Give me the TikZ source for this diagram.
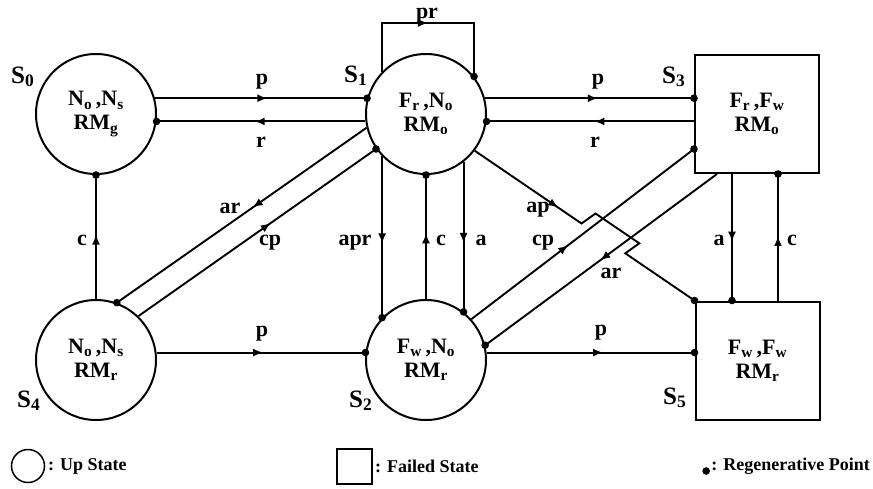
\documentclass[tikz,border=0pt]{standalone}
\usepackage{fontspec}
\setmainfont{Liberation Serif}
\usetikzlibrary{arrows.meta,decorations.markings,calc}
\newcommand{\sbs}[1]{\textsubscript{#1}}
\newcommand{\instate}{\fontsize{22}{24}\selectfont\bfseries}
\begin{document}
\begin{tikzpicture}[x=1pt,y=-1pt,
  up/.style={circle,draw,line width=2pt,minimum size=120pt,inner sep=0pt,align=center,font=\instate},
  failed/.style={rectangle,draw,line width=2pt,minimum width=124pt,minimum height=118pt,inner sep=0pt,align=center,font=\instate},
  conn/.style={line width=1.9pt},
  midarrow/.style={postaction={decorate},decoration={markings,mark=at position #1 with {\arrow{Latex[length=10pt,width=8pt]}}}},
  lbl/.style={font=\fontsize{22}{22}\selectfont\bfseries,inner sep=0pt,anchor=base},
  slbl/.style={font=\fontsize{25}{25}\selectfont\bfseries,inner sep=0pt,anchor=base west},
  legtxt/.style={font=\fontsize{18}{18}\selectfont\bfseries,inner sep=1pt}]
\useasboundingbox (0,0) rectangle (873,488);

% states
\node[up] (s0) at (96,114) {N\sbs{o}\,,N\sbs{s}\\RM\sbs{g}};
\node[up] (s1) at (426,114) {F\sbs{r}\,,N\sbs{o}\\RM\sbs{o}};
\node[failed] (s3) at (757,114) {F\sbs{r}\,,F\sbs{w}\\RM\sbs{o}};
\node[up] (s4) at (96,360) {N\sbs{o}\,,N\sbs{s}\\RM\sbs{r}};
\node[up] (s2) at (426,360) {F\sbs{w}\,,N\sbs{o}\\RM\sbs{r}};
\node[failed] (s5) at (757.5,360.5) {F\sbs{w}\,,F\sbs{w}\\RM\sbs{r}};

% state labels
\node[slbl] (l0) at (11,83) {S\sbs{0}};
\node[slbl] (l1) at (344,82) {S\sbs{1}};
\node[slbl] (l3) at (662,83) {S\sbs{3}};
\node[slbl] (l4) at (17,407) {S\sbs{4}};
\node[slbl] (l2) at (349,407) {S\sbs{2}};
\node[slbl] (l5) at (663,404) {S\sbs{5}};

% helper coordinates
\coordinate (s3pin) at (s1.15 -| s3.west);
\coordinate (s3rout) at (s1.-7 -| s3.west);
\coordinate (s3cp) at ($(s3.west)+(0,35)$);
\coordinate (s3ar) at ($(s3.south west)+(23,0)$);
\coordinate (s3a) at ($(s3.south west)+(38,0)$);
\coordinate (s3c) at ($(s3.south west)+(84,0)$);
\coordinate (s5a) at (s3a |- s5.north);
\coordinate (s5c) at (s3c |- s5.north);
\coordinate (s5p) at (s2.7 -| s5.west);
\coordinate (prtop) at ($(s1.north)+(0,-30)$);
\coordinate (apb1) at ($(s1.-37)!0.486!(s5.north west)$);
\coordinate (apb2) at ($(s1.-37)!0.685!(s5.north west)$);

% connectors
\draw[conn,midarrow=0.53] (s0.15) -- (s1.165);
\draw[conn,midarrow=0.53] (s1.187) -- (s0.-7);
\draw[conn,midarrow=0.54] (s1.15) -- (s3pin);
\draw[conn,midarrow=0.48] (s3rout) -- (s1.-7);
\draw[conn,midarrow=0.487] (s1.136) |- (prtop) -| (s1.38);
\draw[conn,midarrow=0.54] (s1.-136) -- (s2.136);
\draw[conn,midarrow=0.53] (s2.north) -- (s1.south);
\draw[conn,midarrow=0.54] (s1.-52) -- (s2.52);
\draw[conn,midarrow=0.52] (s4.north) -- (s0.south);
\draw[conn,midarrow=0.51] (s4.7) -- (s2.173);
\draw[conn,midarrow=0.56] (s2.7) -- (s5p);
\draw[conn,midarrow=0.456] (s1.193) -- (s4.70);
\draw[conn,midarrow=0.557] (s4.46) -- (s1.215);
\draw[conn,midarrow=0.435] (s2.42) -- (s3cp);
\draw[conn,midarrow=0.504] (s3ar) -- (s2.14);
\draw[conn,midarrow=0.535] (s3a) -- (s5a);
\draw[conn,midarrow=0.51] (s5c) -- (s3c);
\draw[conn,midarrow=101pt] (s1.-37) -- (apb1) -- ($(apb1)+(14,-10)$) -- ($(apb2)+(14,-10)$) -- (apb2) -- (s5.north west);

% regenerative points
\foreach \p in {s1.165, s0.-7, s3pin, s1.-7, s1.38, s2.136, s1.south, s2.52,
                s4.70, s1.215, s0.south, s2.173, s5p, s5a, s3c, s3cp, s2.14, s5.north west}
  \fill (\p) circle (3.8);

% connector labels
\node[lbl] (e1) at (262,84) {p};
\node[lbl] (e2) at (261,147) {r};
\node[lbl] (e3) at (598,84) {p};
\node[lbl] (e4) at (595,147) {r};
\node[lbl] (e5) at (427,18) {pr};
\node[lbl] (e6) at (355,245) {apr};
\node[lbl] (e7) at (441,245) {c};
\node[lbl] (e8) at (481,245) {a};
\node[lbl] (e9) at (82,245) {c};
\node[lbl] (e10) at (262,336) {p};
\node[lbl] (e11) at (601,335) {p};
\node[lbl] (e12) at (230,213) {ar};
\node[lbl] (e13) at (270,245) {cp};
\node[lbl] (e14) at (543,245) {cp};
\node[lbl] (e15) at (611,278) {ar};
\node[lbl] (e16) at (538,212) {ap};
\node[lbl] (e17) at (719,245) {a};
\node[lbl] (e18) at (792,245) {c};

% legend
\node[circle,draw,line width=1.5pt,minimum size=33pt,inner sep=0pt] (lg1) at (28,466) {};
\node[legtxt,anchor=west] (lt1) at (47,466) {: Up State};
\node[rectangle,draw,line width=1.5pt,minimum size=35pt,inner sep=0pt] (lg2) at (354.5,466.5) {};
\node[legtxt,anchor=west] (lt2) at (374,466) {: Failed State};
\node[legtxt,anchor=east] (lt3) at (871,466) {: Regenerative Point};
\fill ($(lt3.west)+(-4,5)$) circle (3.8);
\end{tikzpicture}
\end{document}
